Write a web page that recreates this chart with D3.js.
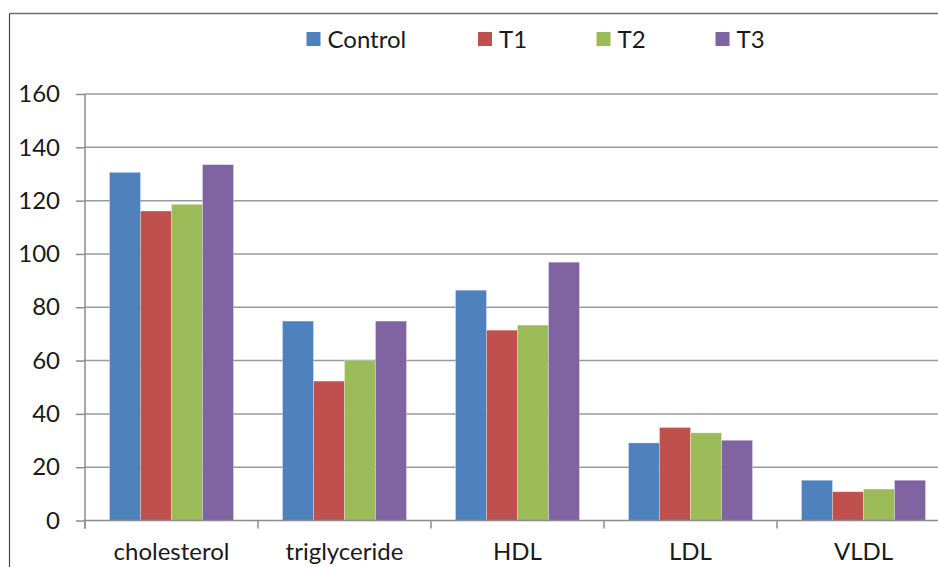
<!DOCTYPE html>
<html>
<head>
<meta charset="utf-8">
<script src="https://cdn.jsdelivr.net/npm/d3@7/dist/d3.min.js"></script>
<style>
  html, body { margin: 0; padding: 0; background: #fff; }
  svg { display: block; }
  text { font-family: Lato, "Noto Sans", sans-serif; fill: #1a1a1a; }
</style>
</head>
<body>
<svg id="chart" width="938" height="567"></svg>
<script>
// Lipid profile by group
const categories = ["cholesterol", "triglyceride", "HDL", "LDL", "VLDL"];
const seriesNames = ["Control", "T1", "T2", "T3"];
const control = [130.6, 74.8, 86.4, 29.1, 15.1];
const t1 = [116.1, 52.3, 71.4, 34.9, 10.8];
const t2 = [118.6, 60.0, 73.3, 32.9, 11.8];
const t3 = [133.5, 74.8, 96.9, 30.1, 15.1];
const yTicks = [0, 20, 40, 60, 80, 100, 120, 140, 160];
const colors = ["#4f81bd", "#c0504d", "#9bbb59", "#8064a2"];

const seriesValues = [control, t1, t2, t3];
const svg = d3.select("#chart");

const plot = { left: 85, right: 950, top: 94, bottom: 520.5 };

const y = d3.scaleLinear().domain([0, 160]).range([plot.bottom, plot.top]);
const pIn = 49 / 173;
const x = d3.scaleBand().domain(categories).range([plot.left, plot.right])
  .paddingInner(pIn).paddingOuter(pIn / 2);
const xs = d3.scaleBand().domain(seriesNames).range([0, x.bandwidth()]);
const color = d3.scaleOrdinal().domain(seriesNames).range(colors);

// outer chart frame
svg.append("line").attr("x1", 9.5).attr("x2", 938).attr("y1", 13.5).attr("y2", 13.5)
  .attr("stroke", "#6e6e6e").attr("stroke-width", 1.5);
svg.append("line").attr("x1", 9.5).attr("x2", 9.5).attr("y1", 13.5).attr("y2", 567)
  .attr("stroke", "#4a4a4a").attr("stroke-width", 1.2);

// horizontal gridlines
svg.append("g").selectAll("line").data(yTicks.filter(d => d > 0)).join("line")
  .attr("x1", plot.left).attr("x2", plot.right)
  .attr("y1", d => y(d)).attr("y2", d => y(d))
  .attr("stroke", "#9a9a9a").attr("stroke-width", 1.5);

// bars
const groups = svg.append("g").selectAll("g").data(seriesNames).join("g")
  .attr("fill", d => color(d));
groups.each(function(name, si) {
  d3.select(this).selectAll("rect").data(categories).join("rect")
    .attr("x", c => x(c) + xs(name))
    .attr("y", (c, i) => y(seriesValues[si][i]))
    .attr("width", xs.bandwidth())
    .attr("height", (c, i) => y(0) - y(seriesValues[si][i]))
    .attr("stroke", "rgba(255,255,255,0.35)")
    .attr("stroke-width", 0.8);
});

// y axis
const yAxis = d3.axisLeft(y).tickValues(yTicks).tickSize(9).tickPadding(16);
const gy = svg.append("g").attr("transform", `translate(${plot.left},0)`).call(yAxis);
gy.select(".domain").attr("stroke", "#8c8c8c").attr("stroke-width", 1.5)
  .attr("d", `M0,${plot.top}V${plot.bottom + 8}`);
gy.selectAll(".tick line").attr("stroke", "#8c8c8c").attr("stroke-width", 1.5);
gy.selectAll(".tick text").attr("font-size", 24).attr("font-family", "Lato, 'Noto Sans', sans-serif")
  .attr("fill", "#1a1a1a");

// x axis with ticks between categories
const xAxisLine = svg.append("g");
xAxisLine.append("line").attr("x1", plot.left).attr("x2", plot.right)
  .attr("y1", plot.bottom).attr("y2", plot.bottom)
  .attr("stroke", "#8c8c8c").attr("stroke-width", 1.5);
const boundaries = categories.map(c => x(c) - x.step() * pIn / 2).concat([plot.right]);
xAxisLine.selectAll("line.b").data(boundaries).join("line").attr("class", "b")
  .attr("x1", d => d).attr("x2", d => d)
  .attr("y1", plot.bottom).attr("y2", plot.bottom + 8)
  .attr("stroke", "#8c8c8c").attr("stroke-width", 1.5);
xAxisLine.selectAll("text").data(categories).join("text")
  .attr("x", c => x(c) + x.bandwidth() / 2)
  .attr("y", 560)
  .attr("text-anchor", "middle")
  .attr("font-size", 24)
  .text(c => c);

// legend
const legendX = [306.5, 478, 596.5, 715.5];
const legend = svg.append("g").selectAll("g").data(seriesNames).join("g")
  .attr("transform", (d, i) => `translate(${legendX[i]},0)`);
legend.append("rect").attr("x", 0).attr("y", 32).attr("width", 14).attr("height", 14)
  .attr("fill", d => color(d));
legend.append("text").attr("x", 21).attr("y", 48).attr("font-size", 24).text(d => d);
</script>
</body>
</html>
